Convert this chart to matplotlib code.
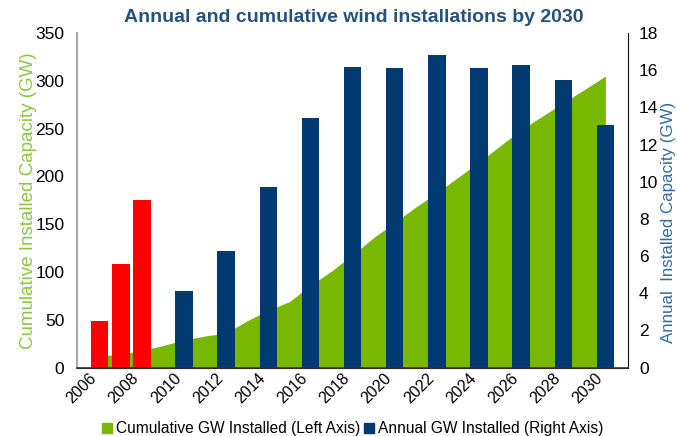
import numpy as np
import matplotlib.pyplot as plt
import matplotlib.transforms as mtransforms
from matplotlib.patches import Patch

plt.rcParams['font.family'] = ['Liberation Sans', 'DejaVu Sans']

# cumulative capacity (left axis, GW), one value per year
years = np.arange(2006, 2031)
cumulative_gw = [12, 14, 18, 23, 29, 33, 36, 49, 60, 69, 86, 101, 118,
                 136, 152, 168, 183, 199, 215, 232, 249, 263, 277, 291, 305]

# annual installations (right axis, GW)
annual_years = [2010, 2012, 2014, 2016, 2018, 2020, 2022, 2024, 2026, 2028, 2030]
annual_gw = [4.1, 6.3, 9.7, 13.45, 16.2, 16.15, 16.8, 16.15, 16.3, 15.5, 13.05]

# red overlay bars (right axis)
actual_years = [2006, 2007, 2008]
actual_gw = [2.5, 5.6, 9.0]

tick_years = list(range(2006, 2031, 2))

green = '#78b800'
navy = '#003a70'
title_blue = '#24527f'

fig = plt.figure(figsize=(6.77, 4.36), dpi=100)
ax = fig.add_axes([0.1137, 0.157, 0.8139, 0.767])
ax2 = ax.twinx()

ax.fill_between(years, cumulative_gw, 0, color=green, linewidth=0)
ax2.bar(annual_years, annual_gw, width=0.83, color=navy)
ax2.bar(actual_years, actual_gw, width=0.83, color='#ff0000')

ax.set_xlim(2004.92, 2031.07)
ax.set_ylim(0, 350)
ax2.set_ylim(0, 18)
ax.set_yticks(range(0, 351, 50))
ax2.set_yticks(range(0, 19, 2))
ax.set_xticks(tick_years)
ax.set_xticklabels([str(y) for y in tick_years], rotation=45, ha='right')
shift = mtransforms.ScaledTranslation(-7 / 100, 0, fig.dpi_scale_trans)
for lab in ax.get_xticklabels():
    lab.set_transform(lab.get_transform() + shift)

ax.tick_params(axis='y', labelsize=12.5, length=0, pad=9)
ax.tick_params(axis='x', labelsize=11.5, length=0, pad=2)
ax2.tick_params(axis='y', labelsize=12.5, length=0, pad=8)

ax.spines['top'].set_visible(False)
ax2.spines['top'].set_visible(False)
ax.spines['left'].set_color('#a8a8a8')
ax.spines['left'].set_linewidth(1.5)
ax2.spines['left'].set_visible(False)
ax2.spines['right'].set_color('#111111')
ax2.spines['bottom'].set_color('#333333')
ax2.spines['bottom'].set_linewidth(1.2)
ax.spines['right'].set_visible(False)

ax.set_ylabel('Cumulative Installed Capacity (GW)', color='#8dc63f',
              fontsize=13.5, labelpad=-1)
fig.text(0.999, 0.489, 'Annual  Installed Capacity (GW)', color='#2e6da4',
         fontsize=12.2, rotation=90, ha='right', va='center')

fig.text(0.522, 0.961, 'Annual and cumulative wind installations by 2030',
         color=title_blue, fontsize=14, fontweight='bold',
         ha='center', va='center')

handles = [Patch(color=green, label='Cumulative GW Installed (Left Axis)'),
           Patch(color=navy, label='Annual GW Installed (Right Axis)')]
fig.legend(handles=handles, loc='center', bbox_to_anchor=(0.521, 0.017),
           ncol=2, frameon=False, fontsize=11.2, handlelength=0.6,
           handleheight=0.6, handletextpad=0.25, columnspacing=0.3,
           borderpad=0)

fig.savefig('out.png', dpi=100)
